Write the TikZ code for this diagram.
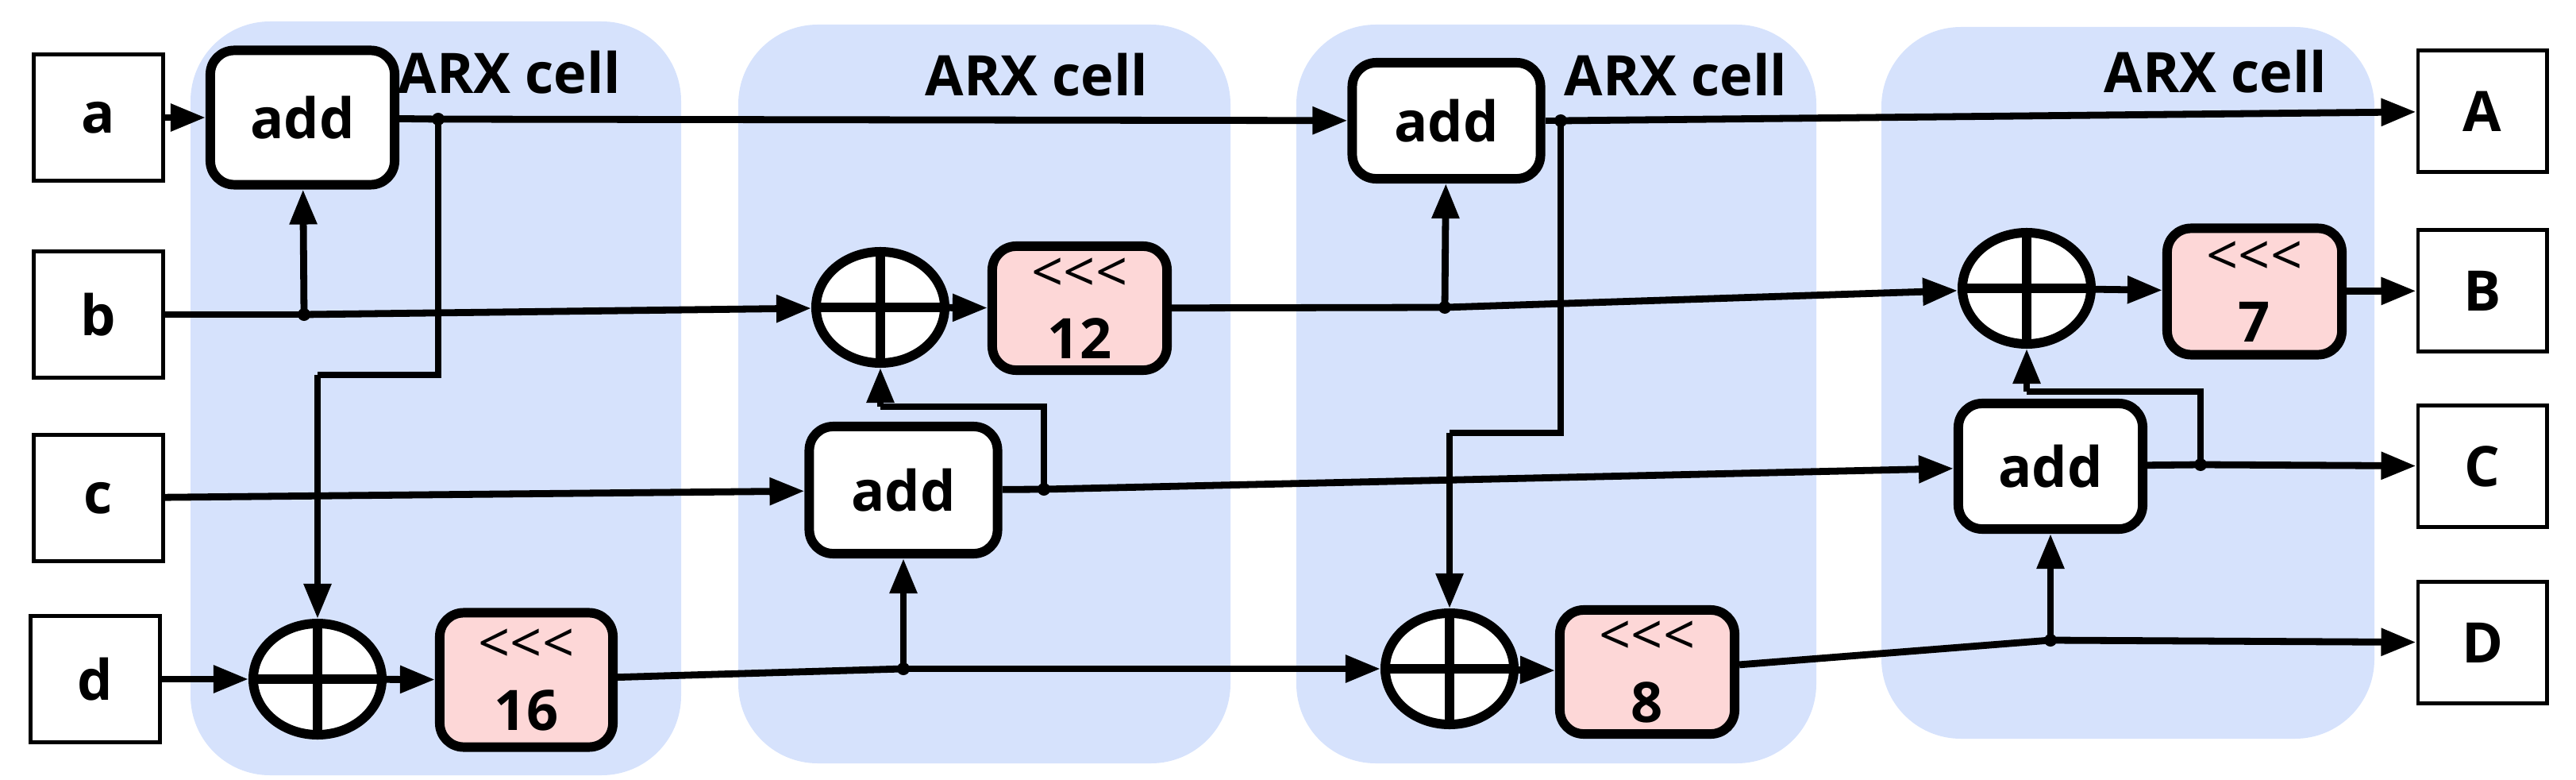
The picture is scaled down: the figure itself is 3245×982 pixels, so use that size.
\documentclass[tikz,border=0pt]{standalone}
\usepackage{fontspec}
\setmainfont{Open Sans}
\usetikzlibrary{shapes.geometric,arrows.meta}
\definecolor{cellbg}{HTML}{D6E2FC}
\definecolor{rotbg}{HTML}{FDD7D7}
\newcommand{\lll}{{\mdseries\mbox{<}\mbox{<}\mbox{<}}}
\begin{document}
\begin{tikzpicture}[x=0.01cm,y=-0.01cm,
  io/.style={draw,line width=1.4pt,minimum width=1.62cm,minimum height=1.58cm,font=\fontsize{20}{24}\selectfont\bfseries,inner sep=0pt},
  op/.style={draw,line width=3.4pt,rounded corners=0.3cm,fill=white,minimum width=2.32cm,minimum height=1.6cm,font=\fontsize{20}{24}\selectfont\bfseries,inner sep=0pt},
  rot/.style={op,fill=rotbg,minimum width=2.2cm,minimum height=1.6cm,align=center},
  xor/.style={draw,ellipse,line width=3.4pt,fill=white,minimum width=1.62cm,minimum height=1.4cm,inner sep=0pt},
  cell/.style={fill=cellbg,rounded corners=1cm},
  lbl/.style={font=\fontsize{20}{24}\selectfont\bfseries},
  w/.style={line width=2.5pt},
  ar/.style={w,-{Triangle[length=4.4mm,width=3.3mm]}},
  dot/.style={circle,fill,inner sep=0pt,minimum size=1.6mm}]
\useasboundingbox (0,0) rectangle (3245,982);
% panels
\fill[cell] (240,27) rectangle (858,976);
\fill[cell] (930,31) rectangle (1550,961);
\fill[cell] (1633,31) rectangle (2288,961);
\fill[cell] (2370,34) rectangle (2991,930);
\node[lbl] (l1) at (642,91) {ARX cell};
\node[lbl] (l2) at (1306,94) {ARX cell};
\node[lbl] (l3) at (2111,94) {ARX cell};
\node[lbl] (l4) at (2791,90) {ARX cell};
% io
\node[io] (a) at (124,148) {a};
\node[io] (b) at (124,396) {b};
\node[io] (c) at (124,627) {c};
\node[io] (d) at (120,855) {d};
\node[io,minimum height=1.53cm] (A) at (3127,140) {A};
\node[io,minimum height=1.53cm] (B) at (3127,366) {B};
\node[io,minimum height=1.53cm] (C) at (3127,587) {C};
\node[io,minimum height=1.53cm] (D) at (3127,809) {D};
% ops
\node[op,minimum height=1.69cm] (add1) at (381,148) {add};
\node[op,minimum width=2.37cm] (add2) at (1138,617) {add};
\node[op,minimum width=2.37cm,minimum height=1.46cm] (add3) at (1822,152) {add};
\node[op,minimum height=1.58cm] (add4) at (2583,587) {add};
\foreach \n/\p in {xor1/{(400,855)},xor2/{(1109,387)},xor3/{(1826,842)},xor4/{(2553,363)}}{
  \node[xor] (\n) at \p {};
  \draw[line width=3.4pt] (\n.north) -- (\n.south) (\n.west) -- (\n.east);
}
\node[rot,minimum height=1.69cm,minimum width=2.18cm] (r16) at (663,856) {\lll\\16};
\node[rot,minimum height=1.56cm] (r12) at (1360,388) {\lll\\12};
\node[rot,minimum height=1.56cm,minimum width=2.2cm] (r8) at (2075,846) {\lll\\8};
\node[rot,minimum height=1.59cm] (r7) at (2840,367) {\lll\\7};
% junctions
\node[dot] (j1) at (552,150) {};
\node[dot] (jb1) at (383,396) {};
\node[dot] (jd2) at (1138,842) {};
\node[dot] (jc2) at (1315,616) {};
\node[dot] (jb3) at (1820,387) {};
\node[dot] (j3) at (1966,152) {};
\node[dot] (jd4) at (2583,806) {};
\node[dot] (jc4) at (2772,585) {};
\coordinate (k1) at (552,472); \coordinate (k1b) at (400,472);
\coordinate (k2) at (1315,512); \coordinate (k2b) at (1109,512);
\coordinate (k3) at (1966,545); \coordinate (k3b) at (1826,545);
\coordinate (k4) at (2772,493); \coordinate (k4b) at (2553,493);
% connectors
\draw[ar] (a) -- (add1);
\draw[w] (add1) -- (j1.center); \draw[ar] (j1.center) -- (add3);
\draw[w] (j1.center) -- (k1) -- (k1b); \draw[ar] (k1b) -- (xor1);
\draw[w] (b) -- (jb1.center); \draw[ar] (jb1.center) -- (xor2);
\draw[ar] (jb1.center) -- (add1);
\draw[ar] (c) -- (add2);
\draw[ar] (d) -- (xor1);
\draw[ar] (xor1) -- (r16);
\draw[w] (r16) -- (jd2.center); \draw[ar] (jd2.center) -- (xor3);
\draw[ar] (jd2.center) -- (add2);
\draw[ar] (xor2) -- (r12);
\draw[w] (r12) -- (jb3.center); \draw[ar] (jb3.center) -- (xor4);
\draw[ar] (jb3.center) -- (add3);
\draw[w] (add2) -- (jc2.center); \draw[ar] (jc2.center) -- (add4);
\draw[w] (jc2.center) -- (k2) -- (k2b); \draw[ar] (k2b) -- (xor2);
\draw[w] (add3) -- (j3.center); \draw[ar] (j3.center) -- (A);
\draw[w] (j3.center) -- (k3) -- (k3b); \draw[ar] (k3b) -- (xor3);
\draw[ar] (xor3) -- (r8);
\draw[w] (r8) -- (jd4.center); \draw[ar] (jd4.center) -- (D);
\draw[ar] (jd4.center) -- (add4);
\draw[ar] (xor4) -- (r7);
\draw[ar] (r7) -- (B);
\draw[w] (add4) -- (jc4.center); \draw[ar] (jc4.center) -- (C);
\draw[w] (jc4.center) -- (k4) -- (k4b); \draw[ar] (k4b) -- (xor4);
\end{tikzpicture}
\end{document}
